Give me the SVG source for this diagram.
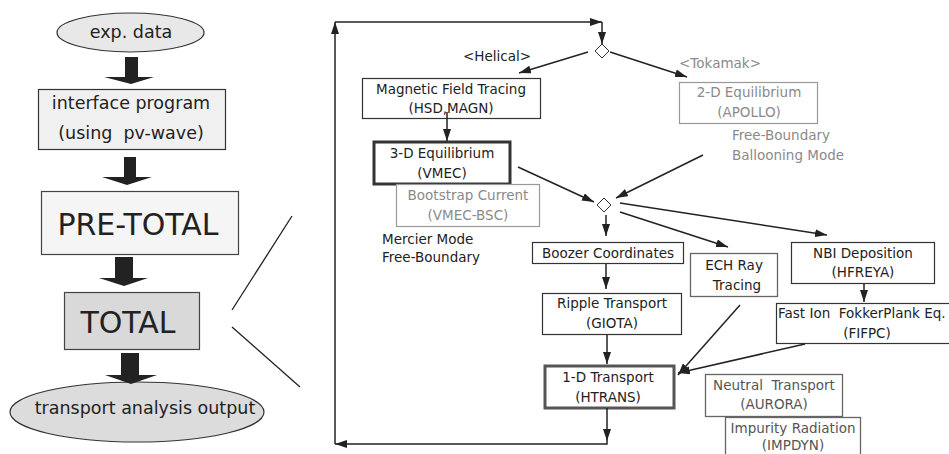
<svg xmlns="http://www.w3.org/2000/svg" width="949" height="454" viewBox="0 0 949 454">
<defs>
<style>
text{font-family:"DejaVu Sans","Noto Sans CJK JP",sans-serif;fill:#222;text-anchor:middle;dominant-baseline:central;white-space:pre}
.big{font-size:30px}
.mid{font-size:17.5px}
.sm{font-size:13.5px}
.gray text,.gtext{fill:#8a8a8a}
.dg text{fill:#555}
.box{fill:#fff;stroke:#333;stroke-width:1.2}
.gbox{fill:#fff;stroke:#999;stroke-width:1.2}
.dgbox{fill:#fff;stroke:#666;stroke-width:1.3}
.blk{fill:#222}
.con{fill:none;stroke:#222;stroke-width:1.5}
.zoom{fill:none;stroke:#222;stroke-width:1.3}
</style>
<marker id="ah" viewBox="0 0 12 8" refX="12" refY="4" markerWidth="12" markerHeight="8" markerUnits="userSpaceOnUse" orient="auto">
<path d="M0,0 L12,4 L0,8 z" fill="#222"/>
</marker>
</defs>
<rect width="949" height="454" fill="#fff"/>

<!-- left column -->
<g id="exp-data">
<ellipse cx="130.5" cy="32.5" rx="73.5" ry="19.5" fill="#e8e8e8" stroke="#333" stroke-width="1.2"/>
<text class="mid" x="131" y="32">exp. data</text>
</g>
<g id="interface">
<rect x="38.5" y="89.5" width="187" height="60" fill="#f0f0f0" stroke="#333" stroke-width="1.2"/>
<text class="mid" x="131" y="103">interface program</text>
<text class="mid" x="131" y="133" xml:space="preserve">(using  pv-wave)</text>
</g>
<g id="pre-total">
<rect x="41.5" y="191.5" width="197" height="63" fill="#f5f5f5" stroke="#444" stroke-width="1.2"/>
<text class="big" x="138" y="224">PRE-TOTAL</text>
</g>
<g id="total">
<rect x="64.5" y="292.5" width="135" height="57" fill="#d9d9d9" stroke="#444" stroke-width="1.2"/>
<text class="big" x="128" y="322">TOTAL</text>
</g>
<g id="output">
<ellipse cx="137" cy="412" rx="127" ry="30" fill="#dcdcdc" stroke="#333" stroke-width="1.2"/>
<text class="mid" x="145" y="408">transport analysis output</text>
</g>

<g id="block-arrows">
<polygon class="blk" points="125,57 138,57 138,77 154,77 131,84 104,77 125,77"/>
<polygon class="blk" points="124,157 136,157 136,177 152,177 127,185 102,177 124,177"/>
<polygon class="blk" points="115,257 133,257 133,278 148,278 124,286 99,278 115,278"/>
<polygon class="blk" points="121,353 139,353 139,375 157,375 131,384 105,375 121,375"/>
</g>

<g id="zoom-lines">
<line class="zoom" x1="292" y1="216" x2="232" y2="310"/>
<line class="zoom" x1="232" y1="327" x2="300" y2="387"/>
</g>

<!-- right panel nodes -->
<g id="diamond1"><polygon points="602,44 609,51 602,58 595,51" fill="#fff" stroke="#333" stroke-width="1"/></g>
<g id="diamond2"><polygon points="604,198 611,205 604,212 597,205" fill="#fff" stroke="#333" stroke-width="1"/></g>

<g id="label-helical"><text class="sm" x="497" y="56">&lt;Helical&gt;</text></g>
<g id="label-tokamak"><text class="sm gtext" x="720" y="63">&lt;Tokamak&gt;</text></g>

<g id="mft">
<rect class="box" x="362.5" y="78.5" width="178" height="40"/>
<text class="sm" x="451" y="89">Magnetic Field Tracing</text>
<text class="sm" x="451" y="108">(HSD,MAGN)</text>
</g>
<g id="vmec">
<rect x="374" y="142" width="136" height="42" fill="#fff" stroke="#333" stroke-width="3"/>
<text class="sm" x="442" y="153">3-D Equilibrium</text>
<text class="sm" x="442" y="173">(VMEC)</text>
</g>
<g id="bsc" class="gray">
<rect class="gbox" x="396.5" y="184.5" width="143" height="42"/>
<text class="sm" x="468" y="195">Bootstrap Current</text>
<text class="sm" x="468" y="215">(VMEC-BSC)</text>
</g>
<g id="mercier">
<text class="sm" x="382" y="239" style="text-anchor:start">Mercier Mode</text>
<text class="sm" x="382" y="257" style="text-anchor:start">Free-Boundary</text>
</g>
<g id="apollo" class="gray">
<rect class="gbox" x="679.5" y="82.5" width="138" height="41"/>
<text class="sm" x="749" y="92">2-D Equilibrium</text>
<text class="sm" x="749" y="112">(APOLLO)</text>
<text class="sm" x="732" y="135" style="text-anchor:start">Free-Boundary</text>
<text class="sm" x="732" y="155" style="text-anchor:start">Ballooning Mode</text>
</g>
<g id="boozer">
<rect class="box" x="532.5" y="242.5" width="151" height="21"/>
<text class="sm" x="608" y="253">Boozer Coordinates</text>
</g>
<g id="giota">
<rect class="box" x="542.5" y="293.5" width="139" height="41"/>
<text class="sm" x="612" y="303">Ripple Transport</text>
<text class="sm" x="612" y="323">(GIOTA)</text>
</g>
<g id="htrans">
<rect x="545" y="366" width="129" height="42" fill="#fff" stroke="#555" stroke-width="3"/>
<text class="sm" x="608" y="377">1-D Transport</text>
<text class="sm" x="608" y="397">(HTRANS)</text>
</g>
<g id="ech">
<rect class="dgbox" x="690.5" y="253.5" width="87" height="43"/>
<text class="sm" x="734" y="265">ECH Ray</text>
<text class="sm" x="737" y="285">Tracing</text>
</g>
<g id="nbi">
<rect class="box" x="791.5" y="242.5" width="143" height="41"/>
<text class="sm" x="863" y="253">NBI Deposition</text>
<text class="sm" x="863" y="272">(HFREYA)</text>
</g>
<g id="fifpc">
<rect class="box" x="776.5" y="303.5" width="174" height="40"/>
<text class="sm" x="778" y="313" style="text-anchor:start" xml:space="preserve">Fast Ion  FokkerPlank Eq.</text>
<text class="sm" x="867" y="333">(FIFPC)</text>
</g>
<g id="aurora" class="dg">
<rect class="dgbox" x="705.5" y="374.5" width="137" height="42"/>
<text class="sm" x="774" y="385" xml:space="preserve">Neutral  Transport</text>
<text class="sm" x="774" y="404">(AURORA)</text>
</g>
<g id="impdyn" class="dg">
<rect class="dgbox" x="725.5" y="417.5" width="135" height="42"/>
<text class="sm" x="793" y="428">Impurity Radiation</text>
<text class="sm" x="793" y="445">(IMPDYN)</text>
</g>

<g id="connectors">
<path class="con" d="M607 408 V441" marker-end="url(#ah)"/>
<path class="con" d="M607 441 V444 H335" marker-end="url(#ah)"/>
<path class="con" d="M335 444 V22" marker-end="url(#ah)"/>
<path class="con" d="M335 22 H602" marker-end="url(#ah)"/>
<path class="con" d="M602 22 V44" marker-end="url(#ah)"/>
<path class="con" d="M588 52 L519 73" marker-end="url(#ah)"/>
<path class="con" d="M610 52 L687 77" marker-end="url(#ah)"/>
<path class="con" d="M447 112 V141" marker-end="url(#ah)"/>
<path class="con" d="M518 167 L594 202" marker-end="url(#ah)"/>
<path class="con" d="M703 155 L616 198" marker-end="url(#ah)"/>
<path class="con" d="M606 215 V236" marker-end="url(#ah)"/>
<path class="con" d="M620 212 L728 247" marker-end="url(#ah)"/>
<path class="con" d="M620 203 L827 235" marker-end="url(#ah)"/>
<path class="con" d="M606 264 V289" marker-end="url(#ah)"/>
<path class="con" d="M607 335 V364" marker-end="url(#ah)"/>
<path class="con" d="M740 305 L678 375" marker-end="url(#ah)"/>
<path class="con" d="M805 344 L678 373" marker-end="url(#ah)"/>
<path class="con" d="M864 284 V302" marker-end="url(#ah)"/>
</g>
</svg>
